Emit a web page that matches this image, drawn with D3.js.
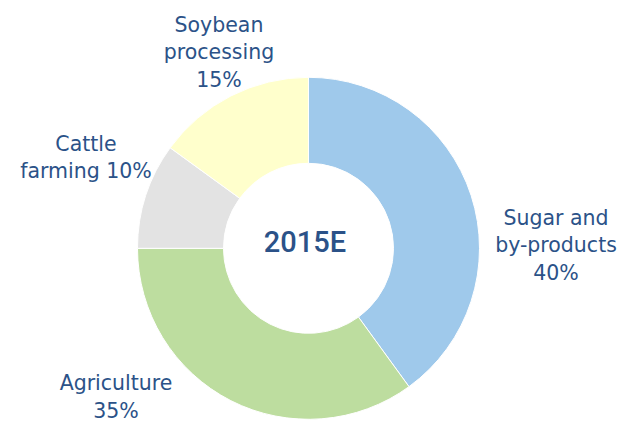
<!DOCTYPE html>
<html>
<head>
<meta charset="utf-8">
<script src="https://cdn.jsdelivr.net/npm/d3@7"></script>
<style>
  body { margin: 0; background: #fff; }
  svg { display: block; }
</style>
</head>
<body>
<script>
var segments = ["Sugar and by-products", "Agriculture", "Cattle farming", "Soybean processing"];
var shares = [40, 35, 10, 15];
var colors = ["#9fc9eb", "#bddd9f", "#e3e3e3", "#ffffcc"];
// label lines, {p} is replaced by the share
var labelLines = [["Sugar and", "by-products", "{p}"], ["Agriculture", "{p}"], ["Cattle", "farming {p}"], ["Soybean", "processing", "{p}"]];
// where each label block sits (centre x, first baseline)
var labelPos = [[556, 224.5], [116, 390], [86, 150.5], [219, 31.5]];
var centerLabel = "2015E";

var width = 623, height = 421,
    cx = 308.5, cy = 248.3,
    outerR = 171, innerR = 85,
    lineH = 27.5,
    textColor = "#2b5288";

var svg = d3.select("body").append("svg")
    .attr("width", width)
    .attr("height", height);

var data = segments.map(function(s, i) { return {name: s, value: shares[i], i: i}; });

var pie = d3.pie().sort(null).value(function(d) { return d.value; });
var arc = d3.arc().innerRadius(innerR).outerRadius(outerR);

var g = svg.append("g").attr("transform", "translate(" + cx + "," + cy + ")");

g.selectAll("path")
  .data(pie(data))
  .enter().append("path")
    .attr("d", arc)
    .attr("fill", function(d) { return colors[d.data.i]; })
    .attr("stroke", "#fff")
    .attr("stroke-width", 1);

g.append("text")
    .attr("x", -3.5)
    .attr("y", 3.5)
    .attr("text-anchor", "middle")
    .attr("font-family", "Roboto")
    .attr("font-weight", 500)
    .attr("font-size", 29)
    .attr("fill", textColor)
    .text(centerLabel);

var labels = svg.selectAll(".lbl")
  .data(data)
  .enter().append("text")
    .attr("class", "lbl")
    .attr("font-family", "DejaVu Sans")
    .attr("font-size", 20.5)
    .attr("fill", textColor)
    .attr("text-anchor", "middle");

labels.each(function(d) {
  var t = d3.select(this);
  var pos = labelPos[d.i];
  labelLines[d.i].forEach(function(line, k) {
    t.append("tspan")
      .attr("x", pos[0])
      .attr("y", pos[1] + k * lineH)
      .text(line.replace("{p}", d.value + "%"));
  });
});
</script>
</body>
</html>
